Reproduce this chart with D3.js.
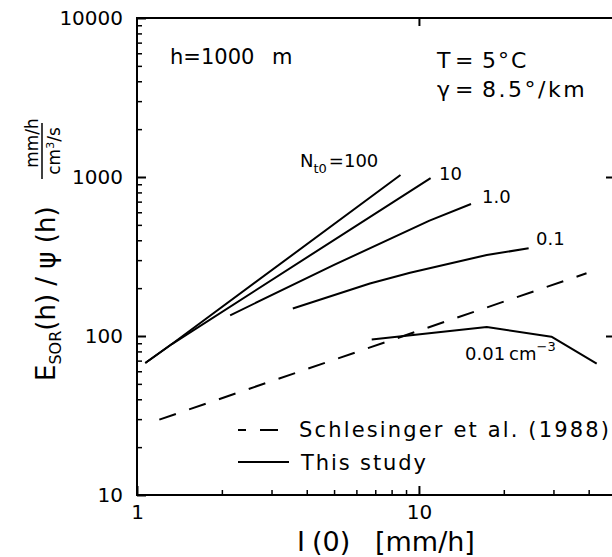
<!DOCTYPE html>
<html>
<head>
<meta charset="utf-8">
<script src="https://cdn.jsdelivr.net/npm/d3@7"></script>
<style>
body { margin: 0; background: #fff; }
text { font-family: "DejaVu Sans", sans-serif; fill: #000; }
</style>
</head>
<body>
<svg id="chart" width="612" height="557"></svg>
<script>
// axis ranges and labelled ticks
var xDomain = [1, 50], yDomain = [10, 10000];
var xMajor = [1, 10], yMajor = [10, 100, 1000, 10000];

// This study, one curve per N_t0 (cm^-3)
var nt100 = [[1.07, 67.6], [1.33, 89], [8.6, 1030]];
var nt10 = [[1.07, 67.6], [1.33, 89], [11.0, 985]];
var nt1 = [[2.14, 135], [5.0, 280], [10.9, 532], [15.3, 676]];
var nt01 = [[3.57, 149], [6.7, 214], [9.3, 250], [17.4, 323], [24.5, 356]];
var nt001 = [[6.8, 95], [17.4, 114], [29.5, 99], [42.7, 67]];
// Schlesinger et al. (1988)
var schlesinger = [[1.2, 29.8], [39.3, 248]];

var svg = d3.select("#chart");
var x = d3.scaleLog().domain(xDomain).range([137, 616]);
var y = d3.scaleLog().domain(yDomain).range([495, 18]);

var xMinor = x.ticks().filter(function(d) { return xMajor.indexOf(d) < 0; });
var yMinor = y.ticks().filter(function(d) { return yMajor.indexOf(d) < 0; });

function styleAxis(g, w) {
    g.select(".domain").remove();
    g.selectAll(".tick line").attr("stroke", "#000").attr("stroke-width", w);
    g.selectAll(".tick text").attr("font-family", "DejaVu Sans").attr("font-size", 20).attr("fill", "#000");
}

// bottom
svg.append("g").attr("transform", "translate(0,495)")
    .call(d3.axisBottom(x).tickValues(xMajor).tickFormat(d3.format("d")).tickSize(-9).tickPadding(10))
    .call(styleAxis, 2);
svg.append("g").attr("transform", "translate(0,495)")
    .call(d3.axisBottom(x).tickValues(xMinor).tickFormat("").tickSize(-5))
    .call(styleAxis, 1.5);
// left
svg.append("g").attr("transform", "translate(137,0)")
    .call(d3.axisLeft(y).tickValues(yMajor).tickFormat(d3.format("d")).tickSize(-9).tickPadding(14))
    .call(styleAxis, 2);
svg.append("g").attr("transform", "translate(137,0)")
    .call(d3.axisLeft(y).tickValues(yMinor).tickFormat("").tickSize(-5))
    .call(styleAxis, 1.5);
// top and right, major only
svg.append("g").attr("transform", "translate(0,18)")
    .call(d3.axisTop(x).tickValues([10]).tickFormat("").tickSize(-8))
    .call(styleAxis, 2);
svg.append("g").attr("transform", "translate(616,0)")
    .call(d3.axisRight(y).tickValues([100, 1000]).tickFormat("").tickSize(-10))
    .call(styleAxis, 2);

// frame
svg.append("rect")
    .attr("x", x(xDomain[0])).attr("y", y(yDomain[1]))
    .attr("width", x(xDomain[1]) - x(xDomain[0]))
    .attr("height", y(yDomain[0]) - y(yDomain[1]))
    .attr("fill", "none").attr("stroke", "#000").attr("stroke-width", 2);

// curves
var line = d3.line().x(function(d) { return x(d[0]); }).y(function(d) { return y(d[1]); });
[nt100, nt10, nt1, nt01, nt001].forEach(function(c) {
    svg.append("path").attr("d", line(c))
	.attr("fill", "none").attr("stroke", "#000").attr("stroke-width", 2)
	.attr("stroke-linejoin", "round");
});
svg.append("path").attr("d", line(schlesinger))
    .attr("fill", "none").attr("stroke", "#000").attr("stroke-width", 2)
    .attr("stroke-dasharray", "17.5,14");

// curve labels
var nl = svg.append("text").attr("x", 300).attr("y", 167).attr("font-size", 18);
nl.append("tspan").text("N");
nl.append("tspan").attr("font-size", 13).attr("dy", 6).text("t0");
nl.append("tspan").attr("dy", -6).attr("dx", 2).text("=100");
svg.append("text").attr("x", 439).attr("y", 180).attr("font-size", 18).text("10");
svg.append("text").attr("x", 482).attr("y", 203).attr("font-size", 18).text("1.0");
svg.append("text").attr("x", 536).attr("y", 245).attr("font-size", 18).text("0.1");
var cl = svg.append("text").attr("x", 465).attr("y", 360).attr("font-size", 18);
cl.append("tspan").text("0.01");
cl.append("tspan").attr("dx", 4).text("cm");
cl.append("tspan").attr("font-size", 13).attr("dy", -9).text("\u22123");

// annotations
svg.append("text").attr("x", 170).attr("y", 64).attr("font-size", 21).text("h=1000");
svg.append("text").attr("x", 272).attr("y", 64).attr("font-size", 21).text("m");
svg.append("text").attr("x", 437).attr("y", 68).attr("font-size", 22).text("T");
svg.append("text").attr("x", 455).attr("y", 68).attr("font-size", 22).text("=");
svg.append("text").attr("x", 482).attr("y", 68).attr("font-size", 22)
    .attr("letter-spacing", 2).text("5\u00b0C");
svg.append("text").attr("x", 437).attr("y", 97).attr("font-size", 22).text("\u03b3");
svg.append("text").attr("x", 455).attr("y", 97).attr("font-size", 22).text("=");
svg.append("text").attr("x", 482).attr("y", 97).attr("font-size", 22)
    .attr("letter-spacing", 2.5).text("8.5\u00b0/km");

// legend
svg.append("line").attr("x1", 238).attr("x2", 279).attr("y1", 430).attr("y2", 430)
    .attr("stroke", "#000").attr("stroke-width", 2)
    .attr("stroke-dasharray", "18,14").attr("stroke-dashoffset", 10);
svg.append("text").attr("x", 299).attr("y", 437).attr("font-size", 21)
    .attr("textLength", 310).attr("lengthAdjust", "spacing").text("Schlesinger et al. (1988)");
svg.append("line").attr("x1", 238).attr("x2", 289).attr("y1", 462).attr("y2", 462)
    .attr("stroke", "#000").attr("stroke-width", 2);
svg.append("text").attr("x", 301).attr("y", 470).attr("font-size", 21)
    .attr("textLength", 125).attr("lengthAdjust", "spacing").text("This study");

// x title
svg.append("text").attr("x", 297).attr("y", 551).attr("font-size", 27)
    .attr("font-family", "Liberation Serif").text("I");
svg.append("text").attr("x", 312).attr("y", 551).attr("font-size", 27).text("(0)");
svg.append("text").attr("x", 375).attr("y", 551).attr("font-size", 27).text("[mm/h]");

// y title
var yt = svg.append("text").attr("transform", "translate(55,381) rotate(-90)").attr("font-size", 26);
yt.append("tspan").text("E");
yt.append("tspan").attr("font-size", 16).attr("dy", 6).text("SOR");
yt.append("tspan").attr("dy", -6).text("(h) / \u03c8 (h)");
var fr = svg.append("g").attr("transform", "translate(42,151) rotate(-90)");
fr.append("line").attr("x1", -28).attr("x2", 28).attr("stroke", "#000").attr("stroke-width", 1.5);
fr.append("text").attr("x", 8).attr("y", -4).attr("font-size", 17).attr("text-anchor", "middle").text("mm/h");
var den = fr.append("text").attr("x", 0).attr("y", 18).attr("font-size", 17).attr("text-anchor", "middle");
den.append("tspan").text("cm");
den.append("tspan").attr("font-size", 11).attr("dy", -6).text("3");
den.append("tspan").attr("dy", 6).text("/s");
</script>
</body>
</html>
